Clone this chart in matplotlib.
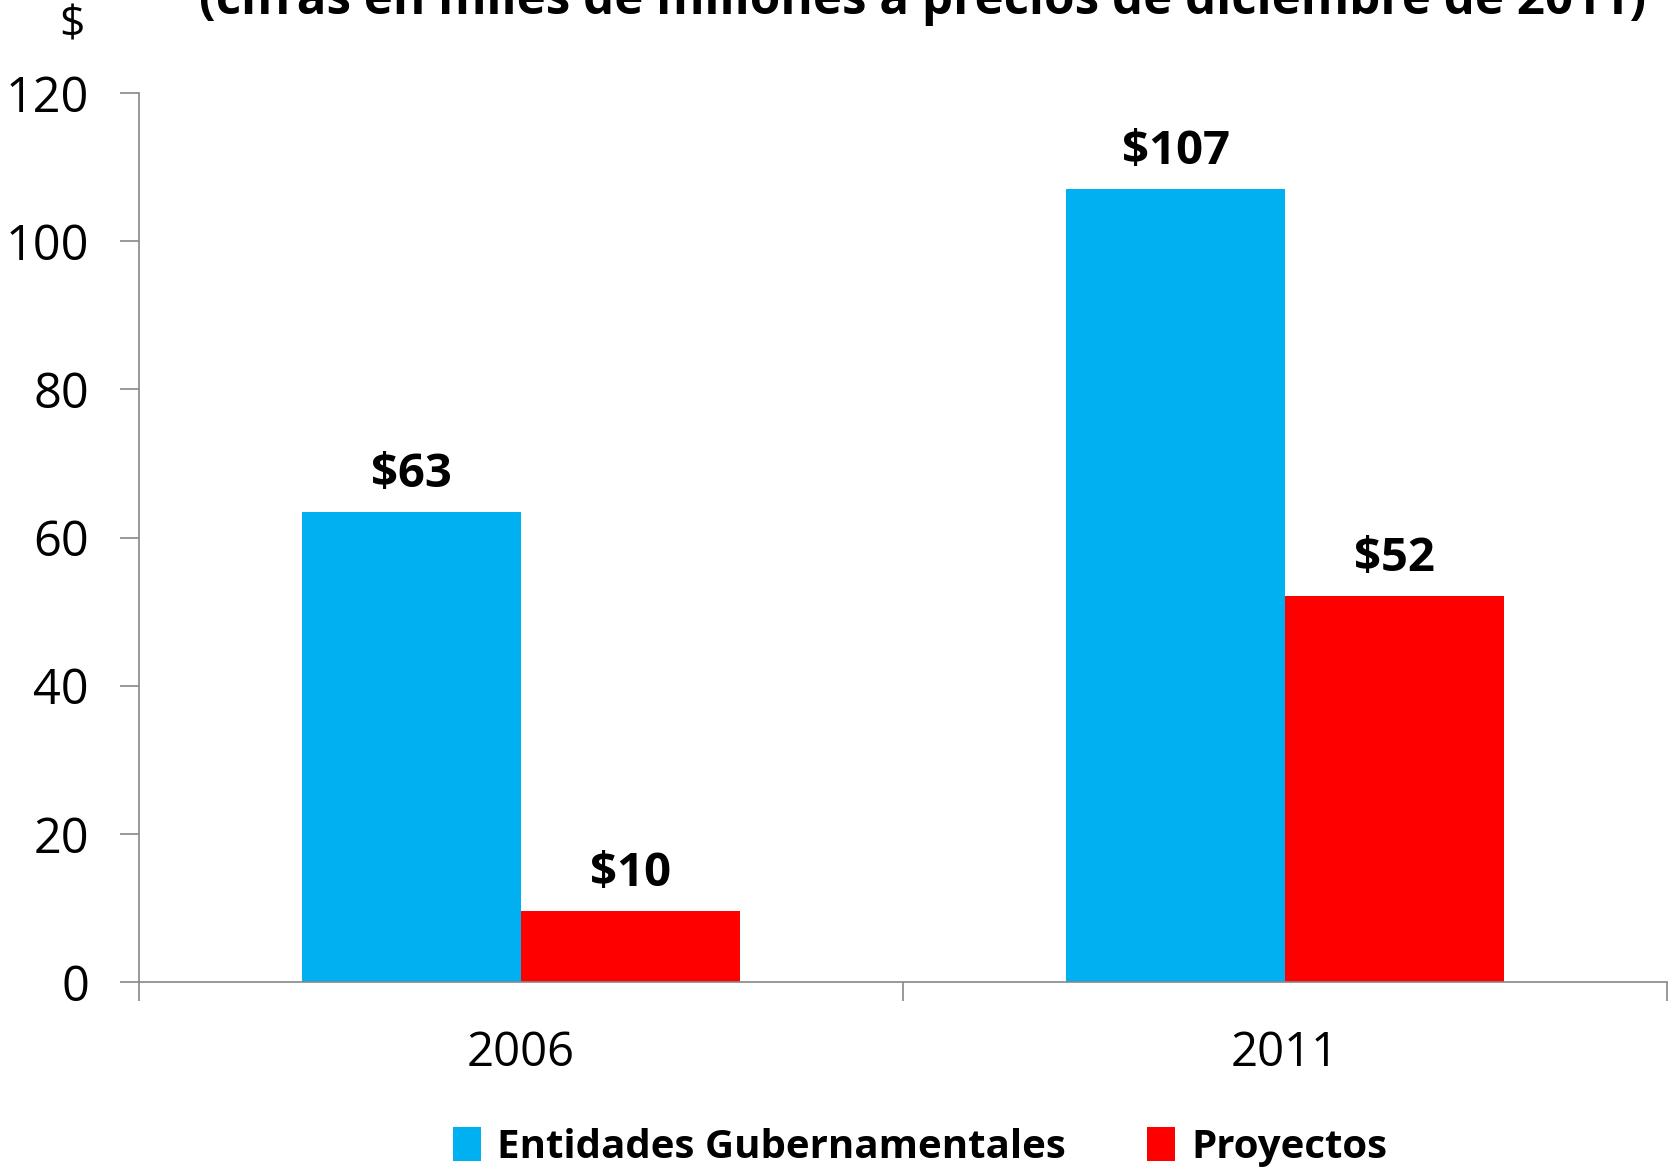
import matplotlib.pyplot as plt
import numpy as np
from matplotlib import font_manager

years = ['2006', '2011']
entidades = [63.4, 107.0]
proyectos = [9.6, 52.1]
etiquetas_ent = ['$63', '$107']
etiquetas_proy = ['$10', '$52']

names = {f.name for f in font_manager.fontManager.ttflist}
fam = 'Liberation Sans Narrow' if 'Liberation Sans Narrow' in names else 'Open Sans'
plt.rcParams['font.family'] = [fam, 'DejaVu Sans']

W, H = 1672, 1175
fig = plt.figure(figsize=(W / 100, H / 100), dpi=100)
ax = fig.add_axes([139 / W, 1 - 982 / H, (1667 - 139) / W, (982 - 93) / H])

ind = np.arange(len(years))
width = 0.286
b1 = ax.bar(ind - width / 2, entidades, width, color='#00B0F0', label='Entidades Gubernamentales')
b2 = ax.bar(ind + width / 2, proyectos, width, color='#FF0000', label='Proyectos')

for rect, txt in zip(b1, etiquetas_ent):
    ax.annotate(txt, (rect.get_x() + rect.get_width() / 2, rect.get_height()),
                xytext=(0, 10), textcoords='offset points', ha='center', va='bottom',
                fontsize=34, fontweight='bold')
for rect, txt in zip(b2, etiquetas_proy):
    ax.annotate(txt, (rect.get_x() + rect.get_width() / 2, rect.get_height()),
                xytext=(0, 10), textcoords='offset points', ha='center', va='bottom',
                fontsize=34, fontweight='bold')

ax.set_xlim(-0.5, 1.5)
ax.set_ylim(0, 120)
ax.set_yticks(np.arange(0, 121, 20))
ax.tick_params(axis='y', labelsize=35, length=14, color='#888888', width=1.2, pad=22)
ax.set_xticks([-0.5, 0.5, 1.5], minor=False)
ax.set_xticklabels([])
ax.tick_params(axis='x', length=14, color='#888888', width=1.2)
ax.set_xticks(ind, minor=True)
ax.set_xticklabels(years, minor=True)
ax.tick_params(axis='x', which='minor', length=0, labelsize=34, pad=34)

for s in ['top', 'right']:
    ax.spines[s].set_visible(False)
ax.spines['left'].set_color('#888888')
ax.spines['bottom'].set_color('#888888')
ax.spines['left'].set_linewidth(1.2)
ax.spines['bottom'].set_linewidth(1.2)

fig.text(72 / W, 1 - 26 / H, '$', fontsize=32, ha='center', va='center')
fig.text(923 / W, 1 - 14 / H, '(cifras en miles de millones a precios de diciembre de 2011)',
         fontsize=35.5, fontweight='bold', ha='center', va='baseline')

leg = fig.legend(handles=[b1, b2], loc='center', bbox_to_anchor=(920 / W, 1 - 1147 / H),
                 ncol=2, frameon=False, prop={'size': 29, 'weight': 'bold'},
                 handlelength=0.7, handleheight=0.9, columnspacing=2.0, handletextpad=0.4)

fig.savefig('out.png', dpi=100)
